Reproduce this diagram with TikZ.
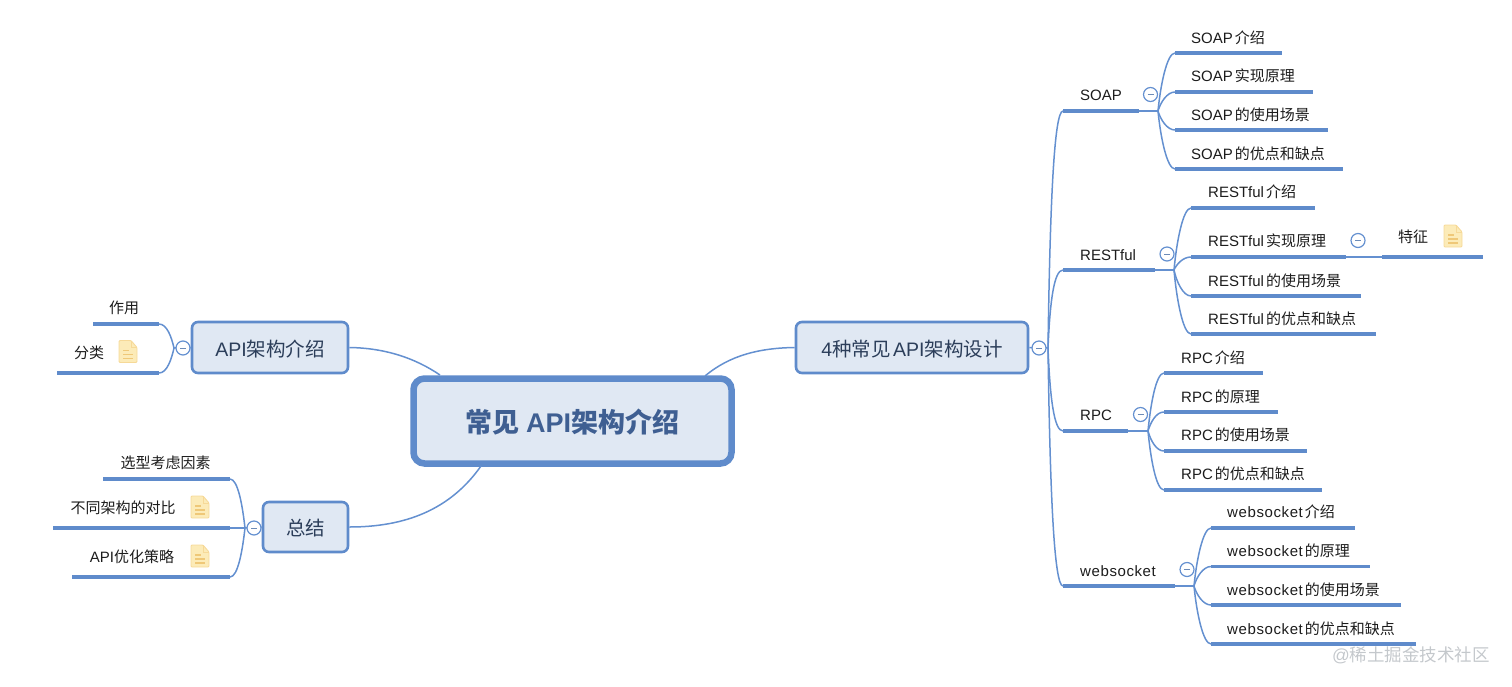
\documentclass[tikz,border=0pt]{standalone}
\usepackage{fontspec}
\setmainfont{Noto Sans CJK SC}
\newfontfamily\latfont{Liberation Sans}
\newfontfamily\widefont[LetterSpace=4]{Liberation Sans}
\newcommand\lat[1]{{\latfont #1}}
\newcommand\wide[1]{{\widefont #1}}
\newcommand\topicfont{\fontsize{19.5}{23}\selectfont\spaceskip 2.5pt\relax}
\newcommand\leaffont{\fontsize{15}{18}\selectfont\spaceskip 2pt\relax}
\usetikzlibrary{calc}
\definecolor{mmline}{HTML}{6490D0}
\definecolor{mmbar}{HTML}{5F8BCB}
\definecolor{mmfill}{HTML}{E0E8F3}
\definecolor{mmtext}{HTML}{2C3E5A}
\definecolor{mmroot}{HTML}{3F5F92}
\definecolor{leaftext}{HTML}{1C1C1C}
\definecolor{notefill}{HTML}{FCEBB8}
\definecolor{noteline}{HTML}{F6D998}
\definecolor{notemark}{HTML}{EFC878}
\definecolor{markgray}{HTML}{C4C8CC}
\tikzset{
  conn/.style={draw=mmline,line width=1.5pt},
  bar/.style={draw=mmbar,line width=3.2pt},
  topicbox/.style={draw=mmbar,fill=mmfill,line width=2.6pt,rounded corners=6pt,text=mmtext,inner sep=0pt,font=\topicfont,anchor=center,text height=18pt,text depth=1pt},
  rootbox/.style={draw=mmbar,fill=mmfill,line width=6.5pt,rounded corners=11pt,text=mmroot,inner sep=0pt,font=\fontsize{27}{32}\selectfont\bfseries,anchor=center,text height=23pt,text depth=1pt},
  leaflabel/.style={text=leaftext,inner sep=0pt,font=\leaffont,text height=12pt,text depth=2pt},
  minusbtn/.style={circle,draw=mmline,fill=white,line width=1.2pt,minimum size=14pt,inner sep=0pt,
    path picture={\draw[draw=mmline!70!gray,line width=1pt] ($(path picture bounding box.center)+(-3,0)$) -- ($(path picture bounding box.center)+(3,0)$);}},
  noteicon/.pic={
    \draw[draw=noteline,fill=notefill,line width=.9pt,rounded corners=1pt] (-9,-11) -- (3,-11) -- (9,-4) -- (9,11) -- (-9,11) -- cycle;
    \draw[draw=noteline,line width=.8pt] (3,-11) -- (3,-4) -- (9,-4);
    \draw[draw=notemark,line width=1.3pt] (-5,-1) -- (1,-1) (-5,3) -- (5,3) (-5,7) -- (5,7);
  }
}
% right-hand branch: name, hub, x-left, x-right, y, text x, text y, text
\newcommand\rleaf[8]{%
  \coordinate (#1L) at (#3,#5); \coordinate (#1R) at (#4,#5);
  \draw[conn] (#2) .. controls ($(#2)!0.45!(#2|-#1L)+(2.5,0)$) and ($(#1L)+(-8,0)$) .. (#1L);
  \draw[bar] (#1L) -- (#1R);
  \node[leaflabel,anchor=west] (#1T) at (#6,#7) {#8};
}
% left-hand branch: name, hub, x-left, x-right, y, text centre x, text y, text
\newcommand\lleaf[8]{%
  \coordinate (#1L) at (#3,#5); \coordinate (#1R) at (#4,#5);
  \draw[conn] (#2) .. controls ($(#2)!0.45!(#2|-#1R)+(-2.5,0)$) and ($(#1R)+(8,0)$) .. (#1R);
  \draw[bar] (#1L) -- (#1R);
  \node[leaflabel,anchor=center] (#1T) at (#6,#7) {#8};
}
\begin{document}
\begin{tikzpicture}[x=1pt,y=-1pt]
\useasboundingbox (0,0) rectangle (1512,686);

% central topics
\node[rootbox,minimum width=318pt,minimum height=85pt] (root) at (572.5,421) {常见 \lat{API}架构介绍};
\node[topicbox,minimum width=156pt,minimum height=51pt] (api) at (270,347.5) {\lat{API}架构介绍};
\node[topicbox,minimum width=85pt,minimum height=50pt] (sum) at (305.5,527) {总结};
\node[topicbox,minimum width=232pt,minimum height=51pt] (arch) at (912,347.5) {\lat{4}种常见 \lat{API}架构设计};

\coordinate (rootA) at (440,375);
\coordinate (rootS) at (481,466);
\coordinate (rootR) at (705,376);
\draw[conn] (api.east) .. controls (385,348) and (415,358) .. (rootA);
\draw[conn] (sum.east) .. controls (405,527) and (450,510) .. (rootS);
\draw[conn] (arch.west) .. controls (760,348) and (730,355) .. (rootR);

% trunk on the right
\coordinate (trunk) at (1048,348);
\draw[conn] (arch.east) -- (trunk);
\foreach \n/\y/\xr in {soap/111/1139,rest/270/1155,rpc/431/1128,web/586/1175}{
  \coordinate (\n L) at (1063,\y);
  \coordinate (\n R) at (\xr,\y);
  \draw[conn] (trunk) .. controls ($(trunk)!0.6!(trunk|-\n L)+(2,0)$) and ($(\n L)+(-9,0)$) .. (\n L);
  \draw[bar] (\n L) -- (\n R);
}
\node[leaflabel,anchor=west] (soapT) at (1080,95.5) {\lat{SOAP}};
\node[leaflabel,anchor=west] (restT) at (1080,255) {\lat{RESTful}};
\node[leaflabel,anchor=west] (rpcT) at (1080,415.5) {\lat{RPC}};
\node[leaflabel,anchor=west] (webT) at (1080,571) {\wide{websocket}};
\node[minusbtn] (trunkBtn) at (1039,348) {};

% SOAP
\coordinate (soapH) at (1158,111);
\draw[conn] (soapR) -- (soapH);
\rleaf{s1}{soapH}{1175}{1282}{53}{1191}{38}{\lat{SOAP} 介绍}
\rleaf{s2}{soapH}{1175}{1313}{92}{1191}{76.5}{\lat{SOAP} 实现原理}
\rleaf{s3}{soapH}{1175}{1328}{130}{1191}{115}{\lat{SOAP} 的使用场景}
\rleaf{s4}{soapH}{1175}{1343}{169}{1191}{154}{\lat{SOAP} 的优点和缺点}
\node[minusbtn] (soapBtn) at (1150.5,94.5) {};

% RESTful
\coordinate (restH) at (1174,270);
\draw[conn] (restR) -- (restH);
\rleaf{r1}{restH}{1191}{1315}{208}{1208}{192.5}{\lat{RESTful} 介绍}
\rleaf{r2}{restH}{1191}{1346}{257}{1208}{241.5}{\lat{RESTful} 实现原理}
\rleaf{r3}{restH}{1191}{1361}{296}{1208}{281}{\lat{RESTful} 的使用场景}
\rleaf{r4}{restH}{1191}{1376}{334}{1208}{319}{\lat{RESTful} 的优点和缺点}
\node[minusbtn] (restBtn) at (1167,254) {};
\coordinate (featL) at (1382,257);
\coordinate (featR) at (1483,257);
\draw[conn] (r2R) -- (featL);
\draw[bar] (featL) -- (featR);
\node[leaflabel,anchor=center] (featT) at (1413,237.5) {特征};
\node[minusbtn] (r2Btn) at (1358,240.5) {};
\pic at (1453,236) {noteicon};

% RPC
\coordinate (rpcH) at (1148,431);
\draw[conn] (rpcR) -- (rpcH);
\rleaf{p1}{rpcH}{1164}{1263}{373}{1181}{358}{\lat{RPC} 介绍}
\rleaf{p2}{rpcH}{1164}{1278}{412}{1181}{397}{\lat{RPC} 的原理}
\rleaf{p3}{rpcH}{1164}{1307}{451}{1181}{435.5}{\lat{RPC} 的使用场景}
\rleaf{p4}{rpcH}{1164}{1322}{490}{1181}{474.5}{\lat{RPC} 的优点和缺点}
\node[minusbtn] (rpcBtn) at (1140.5,414.5) {};

% websocket
\coordinate (webH) at (1194,586);
\draw[conn] (webR) -- (webH);
\rleaf{w1}{webH}{1211}{1355}{528}{1227}{512.5}{\wide{websocket} 介绍}
\rleaf{w2}{webH}{1211}{1370}{566.5}{1227}{551.5}{\wide{websocket} 的原理}
\rleaf{w3}{webH}{1211}{1401}{605}{1227}{590.5}{\wide{websocket} 的使用场景}
\rleaf{w4}{webH}{1211}{1416}{644}{1227}{629}{\wide{websocket} 的优点和缺点}
\node[minusbtn] (webBtn) at (1187,569.5) {};

% API branch
\coordinate (apiH) at (174,348);
\draw[conn] (api.west) -- (apiH);
\lleaf{a1}{apiH}{93}{159}{324}{124}{308.5}{作用}
\lleaf{a2}{apiH}{57}{159}{373}{89}{353.5}{分类}
\node[minusbtn] (apiBtn) at (183,348) {};
\pic at (128,351.5) {noteicon};

% summary branch
\coordinate (sumH) at (245,528);
\draw[conn] (sum.west) -- (sumH);
\lleaf{b1}{sumH}{103}{230}{479}{165.5}{463.5}{选型考虑因素}
\lleaf{b2}{sumH}{53}{230}{528}{123}{508.5}{不同架构的对比}
\lleaf{b3}{sumH}{72}{230}{577}{132}{557}{\lat{API}优化策略}
\node[minusbtn] (sumBtn) at (254,528) {};
\pic at (200,507) {noteicon};
\pic at (200,556) {noteicon};

% watermark
\node[text=markgray,inner sep=0pt,anchor=west,font=\fontsize{17.5}{21}\selectfont] (mark) at (1332,655) {\lat{@}稀土掘金技术社区};
\end{tikzpicture}
\end{document}
